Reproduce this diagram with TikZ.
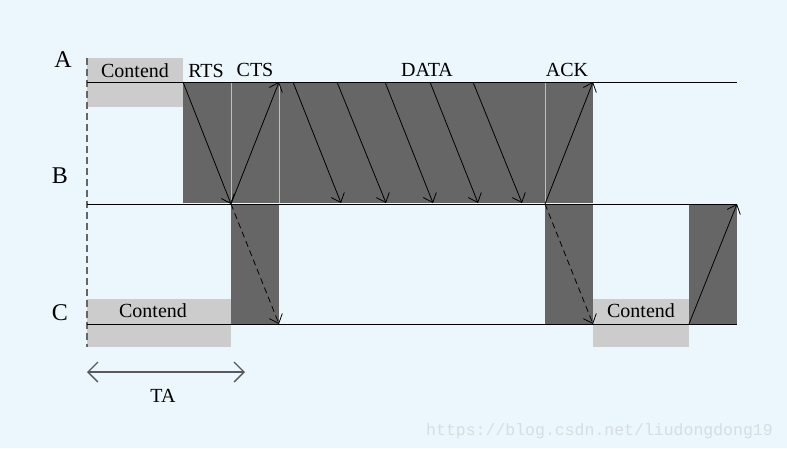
\documentclass[tikz,border=0pt]{standalone}
\usepackage{fontspec}
\setmainfont{Liberation Serif}
\newfontfamily\wmfont{Liberation Mono}
\usetikzlibrary{arrows.meta}
\definecolor{bgblue}{RGB}{235,246,253}
\definecolor{darkblk}{RGB}{102,102,102}
\definecolor{lightblk}{RGB}{204,204,204}
\definecolor{sepline}{RGB}{190,190,190}
\definecolor{wmgray}{RGB}{214,221,227}
\tikzset{
  timeline/.style={black, line width=1pt},
  msgarrow/.style={black, line width=0.8pt, -{Straight Barb[length=8pt,width=14pt]}},
  msgdash/.style={msgarrow, dash pattern=on 6pt off 4pt},
  lbl/.style={inner sep=0pt, anchor=base, font=\fontsize{20}{22}\selectfont},
  station/.style={inner sep=0pt, anchor=base, font=\fontsize{24}{26}\selectfont},
  sep/.style={sepline, line width=1pt},
}
\begin{document}
\begin{tikzpicture}[x=1pt,y=-1pt]
\fill[bgblue] (0,0) rectangle (787,448);
\useasboundingbox (0,0) rectangle (787,448);
% contend boxes
\fill[lightblk] (87,58) rectangle (183,107);
\fill[lightblk] (87,299) rectangle (231,347);
\fill[lightblk] (593,299) rectangle (689,347);
% dark blocks
\fill[darkblk] (183,82) rectangle (593,203);
\fill[darkblk] (231,205) rectangle (279,324);
\fill[darkblk] (545,205) rectangle (593,324);
\fill[darkblk] (689,205) rectangle (737,324);
% separators
\draw[sep] (231,82) -- (231,203);
\draw[sep] (279,82) -- (279,203);
\draw[sep] (545,82) -- (545,203);
% dashed vertical
\draw[darkblk, line width=1.5pt, dash pattern=on 7pt off 4pt] (87,58) -- (87,347);
% coordinates
\coordinate (a0) at (87,82);   \coordinate (a1) at (737,82);
\coordinate (b0) at (87,204);  \coordinate (b1) at (737,204);
\coordinate (c0) at (87,324);  \coordinate (c1) at (737,324);
\coordinate (rtsA) at (183,82); \coordinate (rtsB) at (231,204);
\coordinate (ctsA) at (279,82); \coordinate (ctsC) at (279,324);
\coordinate (ackB) at (545,204); \coordinate (ackA) at (593,82); \coordinate (ackC) at (593,324);
\coordinate (rtsC) at (689,324); \coordinate (rtsB2) at (737,204);
\foreach \i/\s/\e in {1/293/341, 2/337/386, 3/385/433, 4/430/478, 5/473/522}{
  \coordinate (dA\i) at (\s,82);
  \coordinate (dB\i) at (\e,203);
}
\coordinate (ta0) at (87,372); \coordinate (ta1) at (245,372);
% timelines
\draw[timeline] (a0) -- (a1);
\draw[timeline] (b0) -- (b1);
\draw[timeline] (c0) -- (c1);
% messages
\draw[msgarrow] (rtsA) -- (rtsB);
\draw[msgarrow] (rtsB) -- (ctsA);
\draw[msgdash] (rtsB) -- (ctsC);
\foreach \i in {1,...,5}{ \draw[msgarrow] (dA\i) -- (dB\i); }
\draw[msgarrow] (ackB) -- (ackA);
\draw[msgdash] (ackB) -- (ackC);
\draw[msgarrow] (rtsC) -- (rtsB2);
% TA
\draw[gray!70!black, line width=1.3pt, {Straight Barb[length=10pt,width=20pt]}-{Straight Barb[length=10pt,width=20pt]}] (ta0) -- (ta1);
% labels
\node[station] (lA) at (63,67) {A};
\node[station] (lB) at (60,183) {B};
\node[station] (lC) at (60,320) {C};
\node[lbl] (cont1) at (135,77) {Contend};
\node[lbl] (cont2) at (153,317) {Contend};
\node[lbl] (cont3) at (641,317) {Contend};
\node[lbl] (rts) at (206,77) {RTS};
\node[lbl] (cts) at (255,76) {CTS};
\node[lbl] (data) at (427,76) {DATA};
\node[lbl] (ack) at (567,76) {ACK};
\node[lbl] (ta) at (163,402) {TA};
\node[inner sep=0pt, anchor=base west, text=wmgray, font=\wmfont\fontsize{16.5}{18}\selectfont] (wm) at (426,435) {https://blog.csdn.net/liudongdong19};
\end{tikzpicture}
\end{document}
